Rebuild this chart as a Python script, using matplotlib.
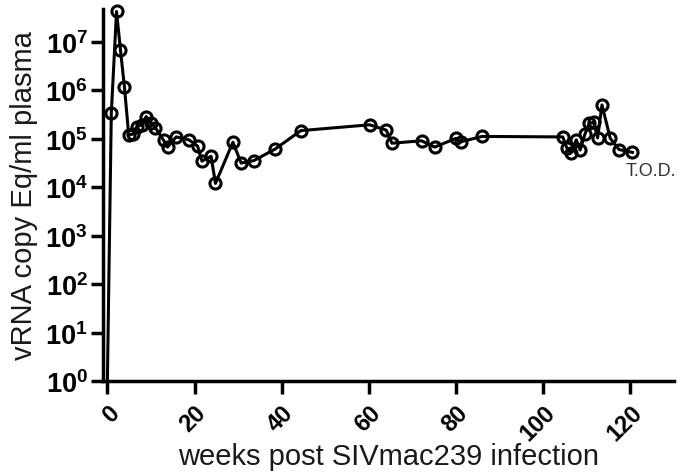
import numpy as np
import matplotlib
matplotlib.use("Agg")
import matplotlib.pyplot as plt

plt.rcParams['font.family'] = ['Liberation Sans', 'DejaVu Sans']
plt.rcParams['mathtext.fontset'] = 'custom'
plt.rcParams['mathtext.rm'] = 'Liberation Sans:bold'
plt.rcParams['mathtext.bf'] = 'Liberation Sans:bold'

# weeks post infection and log10 viral load
weeks = [0, 0.9, 2.1, 3.0, 3.9, 4.9, 5.9, 6.8, 7.9, 8.9, 10.0, 11.0, 12.9, 13.8,
         15.8, 18.7, 20.7, 21.7, 23.8, 24.8, 28.8, 30.7, 33.6, 38.5, 44.4,
         60.2, 64.0, 65.3, 72.1, 75.1, 80.0, 81.1, 86.0, 104.5, 105.4, 106.3,
         107.6, 108.5, 109.6, 110.6, 111.6, 112.5, 113.5, 115.4, 117.4, 120.5]
log_vl = [0, 5.53, 7.63, 6.84, 6.08, 5.08, 5.10, 5.25, 5.29, 5.46, 5.33, 5.23,
          4.97, 4.83, 5.04, 4.98, 4.85, 4.54, 4.64, 4.08, 4.93, 4.50, 4.55,
          4.79, 5.17, 5.29, 5.18, 4.91, 4.96, 4.83, 5.01, 4.94, 5.05, 5.04,
          4.82, 4.71, 4.98, 4.77, 5.10, 5.32, 5.34, 5.02, 5.70, 5.01, 4.78, 4.72]
vl = [10 ** v for v in log_vl]

fig = plt.figure(figsize=(6.8, 4.77), dpi=100)
ax = fig.add_axes([0.1515, 0.199, 0.8395, 0.78])

ax.plot(weeks, vl, '-', color='black', lw=2.2, marker='o', mfc='none', mec='black',
        ms=8, mew=2.2, markevery=list(range(1, len(weeks))), clip_on=False, zorder=3)

ax.set_yscale('log')
ax.set_ylim(1, 10 ** 7.68)
ax.set_xlim(-1, 130)
ax.set_yticks([10 ** i for i in range(8)])
ax.set_yticklabels([r'$10^{%d}$' % i for i in range(8)])
ax.yaxis.set_minor_locator(matplotlib.ticker.NullLocator())
ax.set_xticks(range(0, 121, 20))
ax.set_xticklabels([str(t) for t in range(0, 121, 20)], rotation=45, ha='right',
                   rotation_mode='anchor', fontweight='bold', fontsize=17)

for s in ['top', 'right']:
    ax.spines[s].set_visible(False)
for s in ['left', 'bottom']:
    ax.spines[s].set_linewidth(2.5)
ax.tick_params(axis='both', width=2.5, length=9, direction='out')
ax.tick_params(axis='y', pad=2, labelsize=19.5)
ax.tick_params(axis='x', pad=5)

ax.set_xlabel('weeks post SIVmac239 infection', fontsize=21, labelpad=-2, color='#1a1a1a')
ax.set_ylabel('vRNA copy Eq/ml plasma', fontsize=21, labelpad=5, color='#1a1a1a')

ax.text(119, 10 ** 4.35, 'T.O.D.', fontsize=13, color='#333333', ha='left', va='center')

fig.savefig('out.png', dpi=100)
